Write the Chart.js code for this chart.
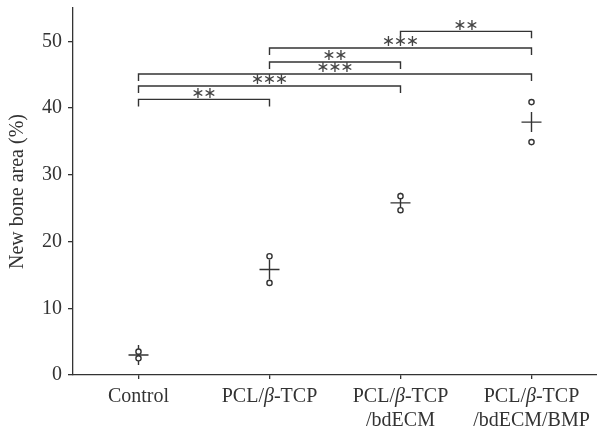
<!DOCTYPE html>
<html>
<head>
<meta charset="utf-8">
<script src="https://cdn.jsdelivr.net/npm/chart.js@4"></script>
<style>
body { margin: 0; background: #fff; }
</style>
</head>
<body>
<canvas id="boneChart" width="597" height="431"></canvas>
<script>
// groups on the x axis (the β gets drawn in italics)
const groups = [["Control"], ["PCL/β-TCP"], ["PCL/β-TCP", "/bdECM"], ["PCL/β-TCP", "/bdECM/BMP"]];
const yTicks = [0, 10, 20, 30, 40, 50];

// two samples per group, plus the mean
const sampleHigh = [3.5, 17.8, 26.8, 40.9];
const sampleLow = [2.5, 13.8, 24.7, 34.9];
const groupMean = [3.0, 15.8, 25.8, 37.9];

// significance brackets: from group, to group, height (%), stars
const bracketFrom = [2, 1, 1, 0, 0, 0];
const bracketTo = [3, 3, 2, 3, 2, 1];
const bracketHeight = [51.5, 49.0, 46.9, 45.1, 43.3, 41.3];
const bracketStars = ["**", "***", "**", "***", "***", "**"];

const ink = "#333";
const serif = "'Liberation Serif', 'DejaVu Serif', serif";

const samplePoints = [];
groups.forEach((g, i) => {
	samplePoints.push({ x: i, y: sampleHigh[i] });
	samplePoints.push({ x: i, y: sampleLow[i] });
});
const meanPoints = groupMean.map((v, i) => ({ x: i, y: v }));

// brackets with stars above the points
const bracketPlugin = {
	id: "brackets",
	afterDatasetsDraw(chart) {
		const ctx = chart.ctx;
		const xs = chart.scales.x;
		const ys = chart.scales.y;
		ctx.save();
		ctx.strokeStyle = ink;
		ctx.fillStyle = "#444";
		ctx.lineWidth = 1.4;
		ctx.font = "16px 'DejaVu Sans'";
		ctx.textAlign = "center";
		ctx.textBaseline = "middle";
		for (let i = 0; i < bracketFrom.length; i++) {
			const x1 = xs.getPixelForValue(bracketFrom[i]);
			const x2 = xs.getPixelForValue(bracketTo[i]);
			const y = ys.getPixelForValue(bracketHeight[i]);
			ctx.beginPath();
			ctx.moveTo(x1, y + 7);
			ctx.lineTo(x1, y);
			ctx.lineTo(x2, y);
			ctx.lineTo(x2, y + 7);
			ctx.stroke();
			const n = bracketStars[i].length;
			const cx = (x1 + x2) / 2;
			for (let k = 0; k < n; k++) {
				ctx.fillText("\u2217", cx + (k - (n - 1) / 2) * 12, y - 6);
			}
		}
		ctx.restore();
	},
};

// x labels drawn by hand so β can be italic
const groupLabelPlugin = {
	id: "groupLabels",
	afterDraw(chart) {
		const ctx = chart.ctx;
		const xs = chart.scales.x;
		const base = chart.chartArea.bottom;
		ctx.save();
		ctx.fillStyle = ink;
		ctx.textBaseline = "alphabetic";
		ctx.textAlign = "left";
		groups.forEach((lines, i) => {
			const cx = xs.getPixelForValue(i);
			lines.forEach((line, j) => {
				const parts = line.split("β");
				const segs = [];
				parts.forEach((p, k) => {
					if (k > 0) segs.push({ t: "β", f: "italic 20px " + serif });
					if (p) segs.push({ t: p, f: "20px " + serif });
				});
				let total = 0;
				segs.forEach(s => { ctx.font = s.f; s.w = ctx.measureText(s.t).width; total += s.w; });
				let x = cx - total / 2;
				const y = base + 27 + j * 24;
				segs.forEach(s => { ctx.font = s.f; ctx.fillText(s.t, x, y); x += s.w; });
			});
		});
		ctx.restore();
	},
};

const boneData = {
	datasets: [
		{
			label: "Samples",
			data: samplePoints,
			pointStyle: "circle",
			pointRadius: 2.6,
			pointBorderWidth: 1.4,
			pointBackgroundColor: "#fff",
			pointBorderColor: ink,
			clip: false,
		},
		{
			label: "Mean",
			data: meanPoints,
			pointStyle: "cross",
			pointRadius: 10,
			pointBorderWidth: 1.4,
			pointBorderColor: ink,
			clip: false,
		},
	],
};

const boneConfig = {
	type: "scatter",
	data: boneData,
	options: {
		responsive: false,
		animation: false,
		layout: { autoPadding: false, padding: { top: 8, right: 0, left: 0, bottom: 0 } },
		plugins: { legend: { display: false }, tooltip: { enabled: false } },
		scales: {
			x: {
				type: "linear",
				min: -0.5,
				max: 3.5,
				afterBuildTicks: axis => { axis.ticks = groups.map((g, i) => ({ value: i })); },
				afterFit: axis => { axis.height = 56; axis.paddingLeft = 0; axis.paddingRight = 0; },
				ticks: { display: false },
				grid: { drawOnChartArea: false, tickLength: 4, color: ink, lineWidth: 1.3 },
				border: { color: ink, width: 1.3 },
			},
			y: {
				min: 0,
				max: 55,
				afterBuildTicks: axis => { axis.ticks = yTicks.map(v => ({ value: v })); },
				afterFit: axis => { axis.width = 73; axis.paddingTop = 0; axis.paddingBottom = 0; },
				ticks: { color: ink, font: { family: serif, size: 20 }, padding: 6 },
				grid: { drawOnChartArea: false, tickLength: 5, color: ink, lineWidth: 1.3 },
				border: { color: ink, width: 1.3 },
				title: {
					display: true,
					text: "New bone area (%)",
					color: ink,
					font: { family: serif, size: 20 },
					padding: { top: 6, bottom: 0 },
				},
			},
		},
	},
	plugins: [bracketPlugin, groupLabelPlugin],
};

const boneChart = new Chart(document.getElementById("boneChart"), boneConfig);
</script>
</body>
</html>
